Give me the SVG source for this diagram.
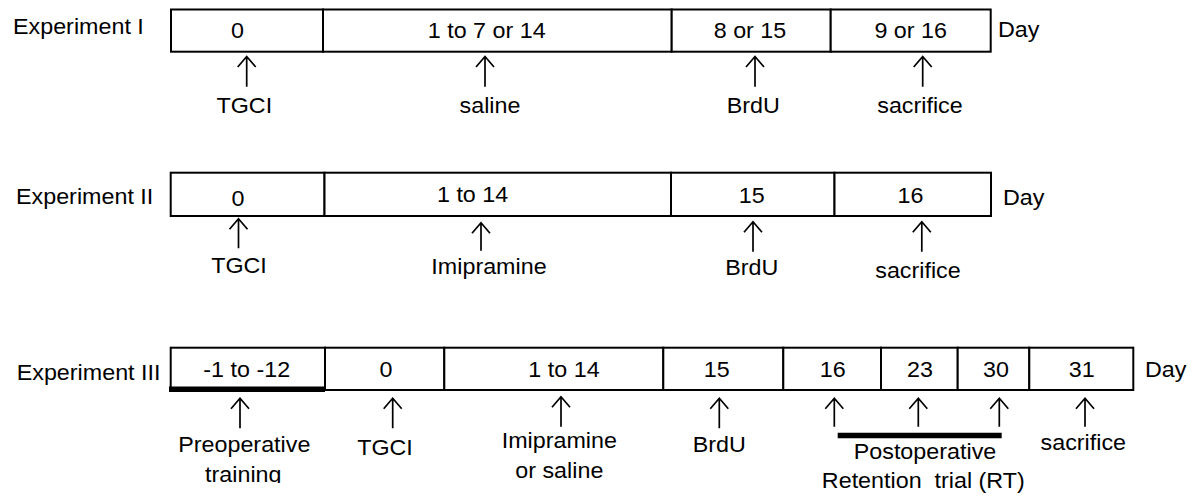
<svg xmlns="http://www.w3.org/2000/svg" width="1195" height="501" viewBox="0 0 1195 501">
  <defs>
    <style>
      text { font-family: "Liberation Sans", Arial, sans-serif; font-size: 22px; fill: #000;
             transform: scaleX(1.06); transform-box: fill-box; transform-origin: 50% 50%; }
      .c { text-anchor: middle; }
      .l { text-anchor: start; transform-origin: 0 50%; }
      .cell { fill: #fff; stroke: #000; stroke-width: 2; }
      .bar { stroke: #000; stroke-width: 5.5; }
      .arr { fill: none; stroke: #000; stroke-width: 1.7; }
    </style>
    <clipPath id="cutBottom"><rect x="0" y="0" width="1195" height="483"/></clipPath>
  </defs>
  <rect width="1195" height="501" fill="#fff"/>

  <!-- Experiment I timeline -->
  <g id="exp1">
    <g id="exp1-label"><text class="l" x="13" y="34.5">Experiment I</text></g>
    <g id="exp1-d0"><rect class="cell" x="171" y="9.5" width="152" height="42.2"/><text class="c" x="237.5" y="38.3">0</text></g>
    <g id="exp1-d1"><rect class="cell" x="323" y="9.5" width="348.7" height="42.2"/><text class="c" x="486.7" y="38.3">1 to 7 or 14</text></g>
    <g id="exp1-d8"><rect class="cell" x="671.7" y="9.5" width="159" height="42.2"/><text class="c" x="750" y="38.3">8 or 15</text></g>
    <g id="exp1-d9"><rect class="cell" x="830.7" y="9.5" width="160" height="42.2"/><text class="c" x="910.7" y="38.3">9 or 16</text></g>
    <g id="exp1-day"><text class="l" x="998" y="37">Day</text></g>
    <g id="exp1-tgci"><text class="c" x="244.3" y="112.7">TGCI</text></g>
    <g id="exp1-saline"><text class="c" x="490" y="113">saline</text></g>
    <g id="exp1-brdu"><text class="c" x="753.3" y="112.7">BrdU</text></g>
    <g id="exp1-sacrifice"><text class="c" x="920" y="112.7">sacrifice</text></g>
  </g>

  <!-- Experiment II timeline -->
  <g id="exp2">
    <g id="exp2-label"><text class="l" x="16" y="204.3">Experiment II</text></g>
    <g id="exp2-d0"><rect class="cell" x="170.7" y="172.7" width="153.8" height="43.3"/><text class="c" x="238" y="206">0</text></g>
    <g id="exp2-d1"><rect class="cell" x="324.5" y="172.7" width="346.5" height="43.3"/><text class="c" x="472.6" y="201.7">1 to 14</text></g>
    <g id="exp2-d15"><rect class="cell" x="671" y="172.7" width="163.5" height="43.3"/><text class="c" x="751.8" y="202.7">15</text></g>
    <g id="exp2-d16"><rect class="cell" x="834.5" y="172.7" width="156.5" height="43.3"/><text class="c" x="910.4" y="202.7">16</text></g>
    <g id="exp2-day"><text class="l" x="1003" y="205">Day</text></g>
    <g id="exp2-tgci"><text class="c" x="239" y="273.3">TGCI</text></g>
    <g id="exp2-imipramine"><text class="c" x="489" y="274">Imipramine</text></g>
    <g id="exp2-brdu"><text class="c" x="751.8" y="275">BrdU</text></g>
    <g id="exp2-sacrifice"><text class="c" x="918" y="278.3">sacrifice</text></g>
  </g>

  <!-- Experiment III timeline -->
  <g id="exp3">
    <g id="exp3-label"><text class="l" x="16.7" y="380">Experiment III</text></g>
    <g id="exp3-dm1"><rect class="cell" x="170.7" y="347.7" width="154.3" height="42.3"/><line class="bar" x1="169" y1="389.3" x2="325" y2="389.3"/><text class="c" x="246.7" y="376.7">-1 to -12</text></g>
    <g id="exp3-d0"><rect class="cell" x="325" y="347.7" width="119.3" height="42.3"/><text class="c" x="386" y="376.7">0</text></g>
    <g id="exp3-d1"><rect class="cell" x="444.3" y="347.7" width="219" height="42.3"/><text class="c" x="564" y="376.7">1 to 14</text></g>
    <g id="exp3-d15"><rect class="cell" x="663.3" y="347.7" width="120" height="42.3"/><text class="c" x="716.7" y="376.7">15</text></g>
    <g id="exp3-d16"><rect class="cell" x="783.3" y="347.7" width="97.7" height="42.3"/><text class="c" x="832.7" y="376.7">16</text></g>
    <g id="exp3-d23"><rect class="cell" x="881" y="347.7" width="76.7" height="42.3"/><text class="c" x="920" y="376.7">23</text></g>
    <g id="exp3-d30"><rect class="cell" x="957.7" y="347.7" width="71.6" height="42.3"/><text class="c" x="996" y="376.7">30</text></g>
    <g id="exp3-d31"><rect class="cell" x="1029.3" y="347.7" width="104" height="42.3"/><text class="c" x="1081.7" y="376.7">31</text></g>
    <g id="exp3-day"><text class="l" x="1145" y="377.3">Day</text></g>
    <g id="exp3-preop"><text class="c" x="244.3" y="451.7">Preoperative</text><text class="c" x="243.3" y="481.7" clip-path="url(#cutBottom)">training</text></g>
    <g id="exp3-tgci"><text class="c" x="385" y="455">TGCI</text></g>
    <g id="exp3-treatment"><text class="c" x="559.3" y="448.3">Imipramine</text><text class="c" x="559.3" y="478.3">or saline</text></g>
    <g id="exp3-brdu"><text class="c" x="719.3" y="451.7">BrdU</text></g>
    <g id="exp3-rt"><line class="bar" x1="837.7" y1="435.5" x2="1001.7" y2="435.5"/><text class="c" x="925" y="459.3">Postoperative</text><text class="c" x="923.3" y="488.3" xml:space="preserve">Retention  trial (RT)</text></g>
    <g id="exp3-sacrifice"><text class="c" x="1083.3" y="450">sacrifice</text></g>
  </g>

  <!-- upward arrows from labels to timeline cells -->
  <g id="connectors" class="arr">
    <path class="arr" d="M246.7,86.7V56.5M237.7,67L246.7,56.5L255.7,67"/>
    <path class="arr" d="M485,86.7V56.5M476,67L485,56.5L494,67"/>
    <path class="arr" d="M755,86.7V56.5M746,67L755,56.5L764,67"/>
    <path class="arr" d="M922.7,86.7V56.5M913.7,67L922.7,56.5L931.7,67"/>

    <path class="arr" d="M238.5,248.3V218.8M229.5,229.3L238.5,218.8L247.5,229.3"/>
    <path class="arr" d="M481,250.7V222.8M472,233.3L481,222.8L490,233.3"/>
    <path class="arr" d="M753,251.7V221.7M744,232.2L753,221.7L762,232.2"/>
    <path class="arr" d="M921.8,251.7V221.7M912.8,232.2L921.8,221.7L930.8,232.2"/>

    <path class="arr" d="M240,428.3V398.3M231,408.8L240,398.3L249,408.8"/>
    <path class="arr" d="M392.7,428.3V398.3M383.7,408.8L392.7,398.3L401.7,408.8"/>
    <path class="arr" d="M561,426.7V396.7M552,407.2L561,396.7L570,407.2"/>
    <path class="arr" d="M719.3,428.3V398.3M710.3,408.8L719.3,398.3L728.3,408.8"/>
    <path class="arr" d="M834.3,426.7V398.3M825.3,408.8L834.3,398.3L843.3,408.8"/>
    <path class="arr" d="M918.3,426.7V398.3M909.3,408.8L918.3,398.3L927.3,408.8"/>
    <path class="arr" d="M999.3,426.7V398.3M990.3,408.8L999.3,398.3L1008.3,408.8"/>
    <path class="arr" d="M1085,426.7V398.3M1076,408.8L1085,398.3L1094,408.8"/>
  </g>
</svg>
